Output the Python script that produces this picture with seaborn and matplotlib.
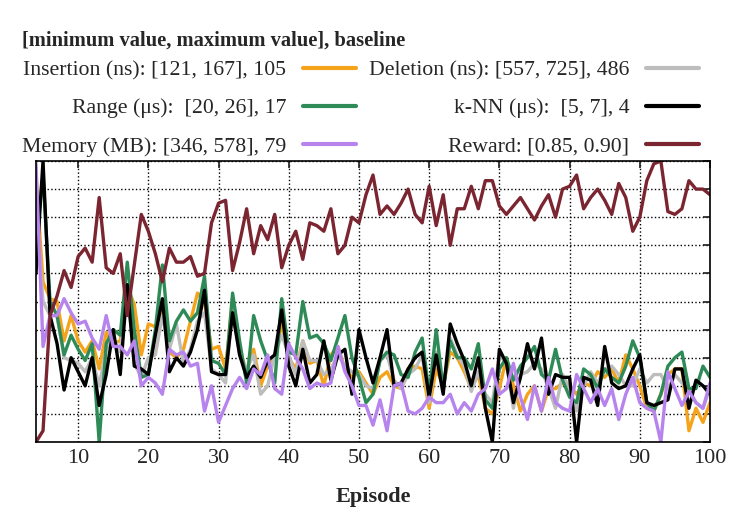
import pandas as pd
import seaborn as sns
import matplotlib.pyplot as plt

# normalised values, one per episode (4..100)
episodes = list(range(4, 101))

insertion = [0.94, 0.57, 0.51, 0.50, 0.36, 0.45, 0.36, 0.32, 0.36, 0.26,
             0.39, 0.35, 0.36, 0.55, 0.49, 0.31, 0.42, 0.41, 0.48, 0.32,
             0.30, 0.33, 0.43, 0.53, 0.50, 0.33, 0.34, 0.26, 0.51, 0.33,
             0.25, 0.33, 0.20, 0.27, 0.31, 0.42, 0.30, 0.26, 0.36, 0.28,
             0.29, 0.20, 0.31, 0.34, 0.26, 0.23, 0.25, 0.21, 0.17, 0.23,
             0.25, 0.20, 0.19, 0.26, 0.27, 0.26, 0.12, 0.26, 0.20, 0.32,
             0.30, 0.25, 0.19, 0.24, 0.12, 0.10, 0.19, 0.30, 0.20, 0.11,
             0.17, 0.20, 0.11, 0.19, 0.19, 0.21, 0.20, 0.17, 0.21, 0.20,
             0.25, 0.23, 0.26, 0.21, 0.31, 0.26, 0.20, 0.12, 0.11, 0.17,
             0.24, 0.26, 0.26, 0.04, 0.12, 0.07, 0.14]

deletion = [0.85, 0.50, 0.45, 0.45, 0.30, 0.29, 0.28, 0.25, 0.30, 0.20,
            0.33, 0.37, 0.32, 0.55, 0.28, 0.23, 0.30, 0.31, 0.45, 0.33,
            0.42, 0.28, 0.33, 0.43, 0.46, 0.26, 0.24, 0.21, 0.48, 0.31,
            0.26, 0.31, 0.17, 0.20, 0.31, 0.38, 0.31, 0.24, 0.36, 0.29,
            0.29, 0.24, 0.26, 0.31, 0.27, 0.25, 0.24, 0.20, 0.19, 0.29,
            0.31, 0.22, 0.19, 0.24, 0.26, 0.31, 0.14, 0.32, 0.19, 0.37,
            0.31, 0.27, 0.18, 0.25, 0.17, 0.14, 0.31, 0.28, 0.12, 0.24,
            0.25, 0.28, 0.26, 0.19, 0.12, 0.24, 0.19, 0.11, 0.20, 0.25,
            0.21, 0.26, 0.27, 0.24, 0.20, 0.20, 0.26, 0.21, 0.24, 0.24,
            0.19, 0.24, 0.21, 0.19, 0.14, 0.12, 0.19]

range_q = [0.72, 0.95, 0.50, 0.45, 0.31, 0.38, 0.33, 0.29, 0.35, 0.00,
           0.35, 0.40, 0.38, 0.64, 0.40, 0.23, 0.24, 0.40, 0.63, 0.36,
           0.43, 0.47, 0.43, 0.46, 0.59, 0.29, 0.28, 0.24, 0.53, 0.36,
           0.21, 0.45, 0.36, 0.29, 0.21, 0.51, 0.32, 0.31, 0.50, 0.37,
           0.38, 0.35, 0.29, 0.37, 0.45, 0.30, 0.23, 0.14, 0.17, 0.29,
           0.32, 0.31, 0.24, 0.23, 0.32, 0.37, 0.17, 0.40, 0.19, 0.36,
           0.30, 0.30, 0.26, 0.35, 0.15, 0.12, 0.26, 0.30, 0.22, 0.27,
           0.30, 0.34, 0.24, 0.22, 0.33, 0.22, 0.16, 0.14, 0.26, 0.24,
           0.19, 0.26, 0.23, 0.21, 0.27, 0.36, 0.30, 0.14, 0.11, 0.17,
           0.27, 0.30, 0.32, 0.19, 0.19, 0.27, 0.23]

knn = [0.60, 1.00, 0.45, 0.35, 0.185, 0.30, 0.25, 0.20, 0.30, 0.13,
       0.24, 0.40, 0.24, 0.56, 0.27, 0.26, 0.24, 0.38, 0.51, 0.25,
       0.30, 0.27, 0.32, 0.40, 0.54, 0.25, 0.24, 0.24, 0.46, 0.31,
       0.23, 0.27, 0.23, 0.29, 0.31, 0.47, 0.27, 0.20, 0.33, 0.21,
       0.24, 0.36, 0.22, 0.31, 0.33, 0.17, 0.40, 0.30, 0.21, 0.30,
       0.40, 0.20, 0.21, 0.26, 0.30, 0.32, 0.16, 0.31, 0.17, 0.42,
       0.35, 0.29, 0.20, 0.30, 0.12, 0.00, 0.33, 0.28, 0.14, 0.23,
       0.35, 0.26, 0.37, 0.17, 0.24, 0.23, 0.23, 0.00, 0.23, 0.22,
       0.13, 0.34, 0.21, 0.19, 0.20, 0.26, 0.31, 0.14, 0.13, 0.14,
       0.15, 0.26, 0.26, 0.12, 0.22, 0.20, 0.17]

memory = [0.99, 0.34, 0.45, 0.45, 0.51, 0.46, 0.42, 0.43, 0.37, 0.33,
          0.45, 0.34, 0.34, 0.31, 0.36, 0.20, 0.23, 0.21, 0.17, 0.33,
          0.31, 0.32, 0.27, 0.28, 0.11, 0.20, 0.07, 0.13, 0.19, 0.23,
          0.19, 0.26, 0.24, 0.31, 0.19, 0.17, 0.35, 0.30, 0.26, 0.19,
          0.21, 0.20, 0.21, 0.34, 0.25, 0.20, 0.13, 0.13, 0.06, 0.15,
          0.04, 0.20, 0.21, 0.11, 0.10, 0.12, 0.16, 0.14, 0.14, 0.17,
          0.10, 0.14, 0.11, 0.17, 0.19, 0.26, 0.17, 0.19, 0.28, 0.16,
          0.08, 0.20, 0.11, 0.23, 0.14, 0.12, 0.11, 0.24, 0.19, 0.14,
          0.19, 0.13, 0.19, 0.08, 0.17, 0.23, 0.14, 0.12, 0.11, 0.00,
          0.25, 0.19, 0.13, 0.18, 0.14, 0.12, 0.21]

reward = [0.00, 0.04, 0.45, 0.52, 0.61, 0.55, 0.66, 0.69, 0.64, 0.87,
          0.62, 0.60, 0.67, 0.45, 0.63, 0.81, 0.75, 0.67, 0.57, 0.69,
          0.64, 0.64, 0.66, 0.59, 0.60, 0.78, 0.85, 0.86, 0.61, 0.71,
          0.83, 0.67, 0.77, 0.72, 0.81, 0.62, 0.70, 0.75, 0.65, 0.78,
          0.77, 0.75, 0.83, 0.67, 0.70, 0.80, 0.78, 0.88, 0.95, 0.81,
          0.84, 0.81, 0.85, 0.90, 0.81, 0.78, 0.91, 0.77, 0.88, 0.70,
          0.83, 0.83, 0.91, 0.83, 0.93, 0.93, 0.84, 0.81, 0.84, 0.87,
          0.83, 0.79, 0.84, 0.88, 0.80, 0.90, 0.91, 0.95, 0.83, 0.87,
          0.90, 0.86, 0.81, 0.92, 0.87, 0.75, 0.80, 0.93, 0.99, 1.00,
          0.82, 0.81, 0.83, 0.93, 0.90, 0.90, 0.88]

labels = ["Insertion (ns): [121, 167], 105",
          "Deletion (ns): [557, 725], 486",
          "Range (\u03bcs):  [20, 26], 17",
          "k-NN (\u03bcs):  [5, 7], 4",
          "Memory (MB): [346, 578], 79",
          "Reward: [0.85, 0.90]"]
colors = ["#f5a31a", "#bdbdbd", "#2e8b57", "#000000", "#b784ee", "#7b2531"]
series = [insertion, deletion, range_q, knn, memory, reward]

frames = []
for lab, vals in zip(labels, series):
    frames.append(pd.DataFrame({"Episode": episodes, "value": vals, "series": lab}))
df = pd.concat(frames, ignore_index=True)

sns.set_theme(style="white")
plt.rcParams['font.family'] = ['Liberation Serif', 'DejaVu Serif']

fig = plt.figure(figsize=(7.34, 5.12), dpi=100)
ax = fig.add_axes([36 / 734, 70 / 512, 674 / 734, 281 / 512])

sns.lineplot(data=df, x="Episode", y="value", hue="series", hue_order=labels,
             palette=dict(zip(labels, colors)), linewidth=2.4, ax=ax)

ax.set_xlim(4, 100)
ax.set_ylim(0, 1)
ax.set_xticks(range(10, 101, 10))
ax.set_yticks([i / 10 for i in range(11)])
ax.set_yticklabels([])
ax.set_ylabel("")
ax.set_xlabel("Episode", fontsize=16, fontweight="bold", labelpad=14)
ax.tick_params(axis="x", labelsize=16, direction="in", length=5, top=True, pad=5)
ax.tick_params(axis="y", direction="in", length=5, right=True)
ax.grid(True, color="black", linestyle=":", linewidth=1)
for s in ax.spines.values():
    s.set_color("black")
    s.set_linewidth(1.2)

# legend header
fig.text(22 / 734, 1 - 41 / 512, "[minimum value, maximum value], baseline",
         fontsize=14.8, fontweight="bold", ha="left", va="center")

# legend in gnuplot order (row-wise), matplotlib fills column-wise
handles, labs = ax.get_legend_handles_labels()
hmap = dict(zip(labs, handles))
order = [labels[0], labels[2], labels[4], labels[1], labels[3], labels[5]]
leg = ax.legend([hmap[l] for l in order], order, ncol=2, markerfirst=False,
                loc="upper left", bbox_to_anchor=(22 / 734, 1 - 60 / 512),
                bbox_transform=fig.transFigure, frameon=False, fontsize=15.7,
                handlelength=2.45, handletextpad=0.75, columnspacing=0.6,
                labelspacing=0.82, borderpad=0, borderaxespad=0)
for line in leg.get_lines():
    line.set_linewidth(3)

fig.savefig("out.png", dpi=100)
